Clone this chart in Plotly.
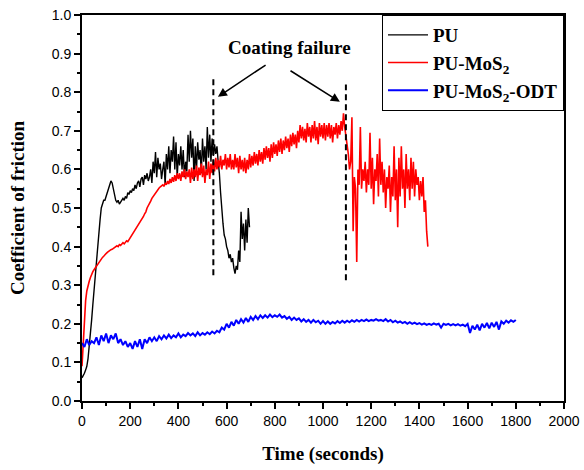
import plotly.graph_objects as go

# ---------------- data ----------------
pu_step = 5
pu_cof = [
    0.06, 0.065, 0.072, 0.08, 0.09, 0.11, 0.14, 0.175, 0.21, 0.25,
    0.29, 0.325, 0.36, 0.40, 0.44, 0.47, 0.50, 0.51, 0.52, 0.52,
    0.53, 0.54, 0.55, 0.56, 0.57, 0.565, 0.55, 0.535, 0.52, 0.515,
    0.52, 0.51, 0.515, 0.52, 0.525, 0.52, 0.53, 0.525, 0.54, 0.535,
    0.545, 0.54, 0.55, 0.545, 0.56, 0.55, 0.565, 0.57, 0.555, 0.575,
    0.58, 0.56, 0.585, 0.575, 0.59, 0.57, 0.58, 0.60, 0.565, 0.62,
    0.59, 0.645, 0.58, 0.63, 0.60, 0.615, 0.575, 0.60, 0.62, 0.56,
    0.64, 0.60, 0.66, 0.59, 0.65, 0.62, 0.685, 0.60, 0.67, 0.58,
    0.64, 0.61, 0.66, 0.60, 0.65, 0.58, 0.62, 0.595, 0.69, 0.62,
    0.70, 0.63, 0.68, 0.57, 0.66, 0.60, 0.67, 0.625, 0.65, 0.59,
    0.68, 0.62, 0.66, 0.60, 0.71, 0.63, 0.69, 0.62, 0.68, 0.635,
    0.665, 0.64, 0.66, 0.62, 0.59, 0.54, 0.49, 0.46, 0.43, 0.42,
    0.40, 0.39, 0.37, 0.38, 0.36, 0.37, 0.345, 0.33, 0.35, 0.34,
    0.39, 0.36, 0.49, 0.42, 0.46, 0.39, 0.47, 0.41, 0.50, 0.45,
]

mos2_step = 5
mos2_cof = [
    0.09, 0.15, 0.22, 0.26, 0.285, 0.30, 0.31, 0.32, 0.33, 0.335,
    0.34, 0.345, 0.35, 0.355, 0.36, 0.365, 0.37, 0.372, 0.375, 0.38,
    0.382, 0.385, 0.388, 0.39, 0.392, 0.393, 0.395, 0.398, 0.40, 0.402,
    0.40, 0.405, 0.403, 0.408, 0.41, 0.407, 0.412, 0.415, 0.413, 0.418,
    0.42, 0.425, 0.43, 0.435, 0.44, 0.445, 0.45, 0.455, 0.46, 0.465,
    0.47, 0.478, 0.485, 0.49, 0.50, 0.505, 0.512, 0.518, 0.525, 0.53,
    0.535, 0.54, 0.545, 0.548, 0.552, 0.555, 0.558, 0.56, 0.556, 0.565,
    0.56, 0.57, 0.562, 0.575, 0.565, 0.58, 0.568, 0.585, 0.57, 0.59,
    0.575, 0.59, 0.57, 0.595, 0.58, 0.60, 0.575, 0.595, 0.58, 0.60,
    0.565, 0.605, 0.575, 0.60, 0.58, 0.61, 0.57, 0.605, 0.585, 0.615,
    0.58, 0.61, 0.565, 0.60, 0.585, 0.62, 0.575, 0.615, 0.59, 0.625,
    0.595, 0.63, 0.60, 0.625, 0.605, 0.635, 0.60, 0.625, 0.61, 0.64,
    0.60, 0.63, 0.605, 0.64, 0.60, 0.625, 0.60, 0.64, 0.605, 0.63,
    0.59, 0.635, 0.60, 0.625, 0.595, 0.63, 0.59, 0.625, 0.60, 0.64,
    0.605, 0.635, 0.61, 0.645, 0.615, 0.64, 0.61, 0.65, 0.62, 0.645,
    0.615, 0.655, 0.625, 0.66, 0.63, 0.655, 0.62, 0.665, 0.63, 0.67,
    0.64, 0.665, 0.635, 0.675, 0.645, 0.68, 0.64, 0.675, 0.65, 0.685,
    0.655, 0.68, 0.645, 0.69, 0.66, 0.695, 0.665, 0.69, 0.655, 0.70,
    0.67, 0.715, 0.68, 0.71, 0.675, 0.705, 0.67, 0.72, 0.685, 0.71,
    0.67, 0.715, 0.68, 0.725, 0.675, 0.71, 0.665, 0.72, 0.685, 0.715,
    0.68, 0.72, 0.675, 0.715, 0.685, 0.72, 0.68, 0.715, 0.67, 0.71,
    0.69, 0.72, 0.68, 0.715, 0.69, 0.725, 0.70, 0.745, 0.71, 0.69,
    0.66, 0.64, 0.60, 0.62, 0.735, 0.44, 0.58, 0.55, 0.36, 0.60,
    0.56, 0.71, 0.55, 0.60, 0.57, 0.62, 0.54, 0.60, 0.56, 0.695,
    0.55, 0.63, 0.51, 0.60, 0.57, 0.64, 0.53, 0.68, 0.56, 0.62,
    0.54, 0.60, 0.50, 0.58, 0.55, 0.61, 0.49, 0.58, 0.53, 0.66,
    0.52, 0.60, 0.45, 0.63, 0.53, 0.66, 0.55, 0.60, 0.50, 0.64,
    0.55, 0.60, 0.52, 0.63, 0.55, 0.62, 0.53, 0.60, 0.56, 0.58,
    0.52, 0.57, 0.53, 0.58, 0.49, 0.52, 0.44, 0.40,
]

odt_step = 10
odt_cof = [
    0.15, 0.14, 0.16, 0.145, 0.155, 0.15, 0.165, 0.145, 0.17, 0.155,
    0.175, 0.15, 0.17, 0.16, 0.175, 0.15, 0.16, 0.145, 0.155, 0.14,
    0.15, 0.135, 0.155, 0.14, 0.16, 0.135, 0.16, 0.15, 0.165, 0.155,
    0.165, 0.155, 0.168, 0.16, 0.17, 0.162, 0.172, 0.163, 0.17, 0.165,
    0.175, 0.165, 0.172, 0.168, 0.176, 0.17, 0.175, 0.168, 0.178, 0.17,
    0.176, 0.172, 0.178, 0.173, 0.18, 0.175, 0.182, 0.178, 0.19, 0.185,
    0.20, 0.19, 0.205, 0.195, 0.21, 0.20, 0.212, 0.203, 0.215, 0.205,
    0.218, 0.21, 0.22, 0.212, 0.222, 0.215, 0.222, 0.216, 0.224, 0.217,
    0.222, 0.218, 0.224, 0.216, 0.22, 0.213, 0.218, 0.21, 0.216, 0.21,
    0.214, 0.206, 0.212, 0.205, 0.21, 0.203, 0.21, 0.204, 0.208, 0.20,
    0.207, 0.20, 0.206, 0.20, 0.205, 0.201, 0.207, 0.202, 0.208, 0.203,
    0.208, 0.204, 0.209, 0.205, 0.21, 0.206, 0.21, 0.207, 0.211, 0.207,
    0.21, 0.208, 0.212, 0.208, 0.21, 0.207, 0.212, 0.206, 0.21, 0.204,
    0.208, 0.203, 0.206, 0.202, 0.205, 0.20, 0.204, 0.20, 0.203, 0.199,
    0.202, 0.198, 0.201, 0.197, 0.20, 0.197, 0.201, 0.198, 0.20, 0.19,
    0.20, 0.197, 0.20, 0.196, 0.199, 0.196, 0.199, 0.195, 0.198, 0.194,
    0.20, 0.176, 0.195, 0.185, 0.198, 0.183, 0.20, 0.19, 0.202, 0.188,
    0.203, 0.192, 0.205, 0.185, 0.206, 0.20, 0.208, 0.203, 0.209, 0.205,
    0.21,
]

series_names = ["PU", "PU-MoS<sub>2</sub>", "PU-MoS<sub>2</sub>-ODT"]
failure_times = [545, 1095]
failure_ranges = [(0.326, 0.834), (0.313, 0.820)]

x_ticks = [0, 200, 400, 600, 800, 1000, 1200, 1400, 1600, 1800, 2000]
y_ticks = [0.0, 0.1, 0.2, 0.3, 0.4, 0.5, 0.6, 0.7, 0.8, 0.9, 1.0]

# ---------------- figure ----------------
def times(vals, step):
    return [i * step for i in range(len(vals))]

fig = go.Figure()
fig.add_trace(go.Scatter(x=times(pu_cof, pu_step), y=pu_cof, mode="lines",
                         name=series_names[0], line=dict(color="black", width=1.4)))
fig.add_trace(go.Scatter(x=times(mos2_cof, mos2_step), y=mos2_cof, mode="lines",
                         name=series_names[1], line=dict(color="#ff0000", width=1.6)))
fig.add_trace(go.Scatter(x=times(odt_cof, odt_step), y=odt_cof, mode="lines",
                         name=series_names[2], line=dict(color="#0000ff", width=2)))

for t, (y0, y1) in zip(failure_times, failure_ranges):
    fig.add_shape(type="line", x0=t, x1=t, y0=y0, y1=y1, xref="x", yref="y",
                  line=dict(color="black", width=2, dash="6px,4px"))

serif = "Liberation Serif, Times New Roman, serif"
sans = "Liberation Sans, Arial, sans-serif"

fig.add_annotation(x=863, y=0.917, xref="x", yref="y", text="<b>Coating failure</b>",
                   showarrow=False, font=dict(family=serif, size=19, color="black"))
fig.add_annotation(x=564, y=0.788, ax=768, ay=0.873, xref="x", yref="y",
                   axref="x", ayref="y", text="", showarrow=True,
                   arrowhead=2, arrowsize=1.2, arrowwidth=1.5, arrowcolor="black")
fig.add_annotation(x=1070, y=0.775, ax=859, ay=0.858, xref="x", yref="y",
                   axref="x", ayref="y", text="", showarrow=True,
                   arrowhead=2, arrowsize=1.2, arrowwidth=1.5, arrowcolor="black")

axis_common = dict(showline=True, linecolor="black", linewidth=2, mirror=True,
                   ticks="outside", ticklen=6, tickwidth=2, tickcolor="black",
                   showgrid=False, zeroline=False, automargin=False,
                   tickfont=dict(family=sans, size=14, color="black"))

fig.update_xaxes(range=[0, 2000], tickvals=x_ticks, ticktext=[str(v) for v in x_ticks],
                 minor=dict(ticks="outside", ticklen=3, tickwidth=2, dtick=100, tick0=0,
                            tickcolor="black"),
                 title=dict(text="<b>Time (seconds)</b>", font=dict(family=serif, size=19, color="black"),
                            standoff=19),
                 **axis_common)
fig.update_yaxes(range=[0, 1.0], tickvals=y_ticks, ticktext=[f"{v:.1f}" for v in y_ticks],
                 minor=dict(ticks="outside", ticklen=3, tickwidth=2, dtick=0.05, tick0=0,
                            tickcolor="black"),
                 title=dict(text="<b>Coefficient of friction</b>", font=dict(family=serif, size=19, color="black"),
                            standoff=22),
                 **axis_common)

fig.update_layout(
    width=584, height=470,
    margin=dict(l=82, r=20, t=15, b=69, autoexpand=False),
    paper_bgcolor="white", plot_bgcolor="white",
    showlegend=True,
    legend=dict(x=1, y=1, xanchor="right", yanchor="top",
                bgcolor="white", bordercolor="black", borderwidth=1,
                font=dict(family=serif, size=19, color="black", weight="bold"),
                tracegroupgap=2, itemwidth=40),
)

fig.write_html("out.html")
